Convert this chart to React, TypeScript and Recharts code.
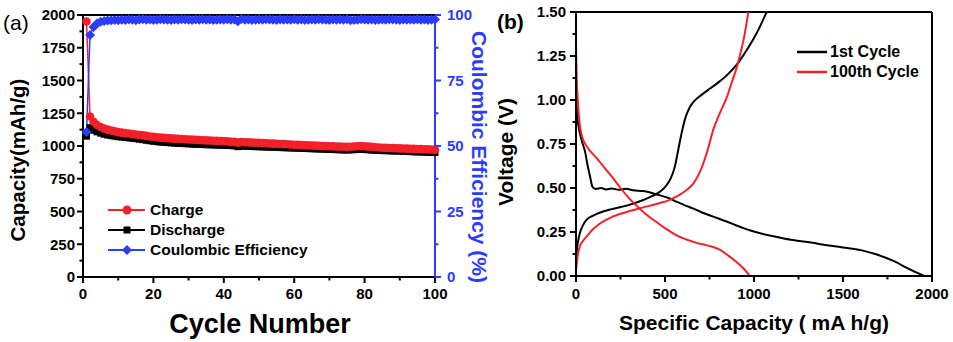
import React from 'react';
import { LineChart, Line, XAxis, YAxis, ReferenceLine, Legend } from 'recharts';

const RED = '#f3202a';
const BLUE = '#2b3bff';
const BLACK = '#000';
const FONT = '"Liberation Sans", Arial, sans-serif';

// ---- panel (a): cycling ----
const cycles = Array.from({ length: 100 }, (_, i) => i + 1);

const charge = [
  1950, 1225, 1185, 1160, 1145, 1133, 1125, 1118, 1112, 1106,
  1102, 1098, 1095, 1091, 1088, 1084, 1081, 1077, 1073, 1070,
  1067, 1064, 1062, 1060, 1058, 1056, 1055, 1053, 1052, 1050,
  1049, 1047, 1046, 1044, 1043, 1042, 1040, 1039, 1038, 1036,
  1035, 1033, 1032, 1026, 1030, 1029, 1028, 1026, 1025, 1024,
  1022, 1021, 1019, 1018, 1017, 1015, 1014, 1013, 1011, 1010,
  1009, 1008, 1006, 1005, 1004, 1003, 1002, 1000, 999, 998,
  997, 996, 995, 994, 993, 994, 996, 998, 1000, 998,
  995, 993, 991, 989, 987, 986, 985, 984, 983, 982,
  981, 980, 979, 978, 977, 976, 975, 974, 973, 972,
];

const discharge = [
  1075, 1140, 1120, 1108, 1098, 1090, 1084, 1079, 1075, 1071,
  1068, 1065, 1062, 1059, 1056, 1052, 1048, 1044, 1040, 1036,
  1033, 1030, 1028, 1026, 1024, 1022, 1020, 1019, 1018, 1016,
  1015, 1013, 1012, 1011, 1010, 1009, 1008, 1007, 1006, 1005,
  1004, 1003, 1001, 995, 999, 998, 997, 996, 995, 994,
  993, 992, 991, 990, 989, 988, 987, 986, 985, 984,
  983, 982, 981, 980, 979, 978, 977, 976, 975, 974,
  973, 972, 971, 970, 969, 970, 972, 974, 975, 973,
  971, 969, 967, 966, 965, 964, 963, 962, 961, 960,
  959, 958, 957, 956, 955, 954, 953, 952, 951, 950,
];

const coulombicEfficiency = [
  55.3, 92.4, 95.4, 96.8, 97.4, 97.7, 97.9, 98.0, 98.1, 98.0,
  98.2, 98.1, 98.3, 98.2, 98.0, 98.3, 98.4, 98.2, 98.3, 98.1,
  98.2, 98.4, 98.3, 98.2, 98.1, 98.3, 98.2, 98.4, 98.3, 98.2,
  98.1, 98.3, 98.2, 98.4, 98.2, 98.3, 98.1, 98.2, 98.3, 98.2,
  98.4, 98.2, 98.3, 97.6, 98.5, 98.2, 98.3, 98.1, 98.2, 98.3,
  98.2, 98.4, 98.3, 98.2, 98.1, 98.3, 98.2, 98.3, 98.2, 98.4,
  98.2, 98.3, 98.1, 98.2, 98.3, 98.2, 98.4, 98.3, 98.2, 98.1,
  98.3, 98.2, 98.3, 98.2, 98.4, 98.0, 98.1, 98.2, 98.4, 98.3,
  98.2, 98.3, 98.1, 98.2, 98.3, 98.2, 98.4, 98.3, 98.2, 98.1,
  98.3, 98.2, 98.3, 98.2, 98.4, 98.2, 98.3, 98.1, 98.2, 98.3,
];

const capacityTicks = [0, 125, 250, 375, 500, 625, 750, 875, 1000, 1125, 1250, 1375, 1500, 1625, 1750, 1875, 2000];
const ceTicks = [0, 12.5, 25, 37.5, 50, 62.5, 75, 87.5, 100];
const cycleTicks = [0, 10, 20, 30, 40, 50, 60, 70, 80, 90, 100];

const cycleRows = cycles.map((c, i) => ({
  cycle: c,
  charge: charge[i],
  discharge: discharge[i],
  ce: coulombicEfficiency[i],
}));

// ---- panel (b): voltage profiles, [capacity, voltage] ----
const firstDischarge = [
  [0, 1.02], [8, 0.9], [20, 0.82], [35, 0.76], [50, 0.71], [65, 0.63], [80, 0.56], [92, 0.508],
  [110, 0.495], [140, 0.5], [170, 0.492], [200, 0.497], [240, 0.49], [280, 0.496], [320, 0.487],
  [378, 0.483], [425, 0.472], [472, 0.458], [520, 0.443], [570, 0.42], [615, 0.4], [660, 0.383],
  [705, 0.362], [750, 0.345], [800, 0.327], [850, 0.308], [895, 0.29], [940, 0.272], [985, 0.257],
  [1035, 0.243], [1130, 0.222], [1220, 0.204], [1320, 0.19], [1410, 0.175], [1500, 0.162],
  [1600, 0.147], [1690, 0.122], [1780, 0.087], [1870, 0.04], [1955, 0],
];
const firstCharge = [
  [0, 0.06], [5, 0.15], [12, 0.2], [22, 0.245], [40, 0.29], [60, 0.32], [100, 0.345], [140, 0.362],
  [200, 0.38], [285, 0.4], [378, 0.432], [430, 0.455], [470, 0.478], [500, 0.505], [530, 0.55],
  [555, 0.62], [575, 0.72], [595, 0.82], [615, 0.9], [640, 0.96], [665, 0.995], [700, 1.025],
  [753, 1.065], [800, 1.1], [847, 1.14], [890, 1.185], [921, 1.225], [960, 1.285], [996, 1.345],
  [1030, 1.41], [1071, 1.5],
];
const hundredthDischarge = [
  [0, 1.3], [4, 1.12], [10, 1.0], [20, 0.87], [35, 0.79], [55, 0.745], [80, 0.71], [116, 0.67],
  [160, 0.615], [205, 0.56], [250, 0.5], [300, 0.44], [350, 0.39], [400, 0.345], [450, 0.308],
  [500, 0.272], [550, 0.24], [600, 0.215], [660, 0.194], [710, 0.18], [760, 0.168], [810, 0.148],
  [850, 0.12], [895, 0.085], [940, 0.044], [977, 0],
];
const hundredthCharge = [
  [0, 0.03], [4, 0.07], [10, 0.12], [22, 0.17], [40, 0.2], [60, 0.225], [100, 0.27], [135, 0.298],
  [200, 0.335], [285, 0.364], [380, 0.39], [472, 0.415], [520, 0.43], [566, 0.452], [610, 0.48],
  [659, 0.525], [700, 0.6], [735, 0.7], [771, 0.83], [810, 0.93], [847, 1.015], [875, 1.1],
  [903, 1.185], [925, 1.27], [945, 1.36], [968, 1.5],
];

const voltageTicks = [0, 0.125, 0.25, 0.375, 0.5, 0.625, 0.75, 0.875, 1, 1.125, 1.25, 1.375, 1.5];
const capTicks = [0, 250, 500, 750, 1000, 1250, 1500, 1750, 2000];

const toPoints = (rows: number[][]) => rows.map(([cap, v]) => ({ cap, v }));

// tick with major/minor marks drawn by hand
type TickOpts = {
  side: 'left' | 'right' | 'bottom';
  gap: number;
  every: number;
  color: string;
  fmt: (v: number) => string;
};
const renderTick = (p: any, o: TickOpts) => {
  const v = p.payload.value as number;
  const major = Math.abs(v / o.every - Math.round(v / o.every)) < 1e-6;
  const len = major ? 6 : 3.5;
  const txt = { fontFamily: FONT, fontWeight: 700, fontSize: 15, fill: o.color };
  if (o.side === 'left') {
    const ax = p.x + o.gap;
    return (
      <g>
        <line x1={ax} x2={ax - len} y1={p.y} y2={p.y} stroke={o.color} strokeWidth={2} />
        {major && <text x={p.x} y={p.y} dy="0.35em" textAnchor="end" {...txt}>{o.fmt(v)}</text>}
      </g>
    );
  }
  if (o.side === 'right') {
    const ax = p.x - o.gap;
    return (
      <g>
        <line x1={ax} x2={ax + len} y1={p.y} y2={p.y} stroke={o.color} strokeWidth={2} />
        {major && <text x={p.x} y={p.y} dy="0.35em" textAnchor="start" {...txt}>{o.fmt(v)}</text>}
      </g>
    );
  }
  const ay = p.y - o.gap;
  return (
    <g>
      <line x1={p.x} x2={p.x} y1={ay} y2={ay + len} stroke={o.color} strokeWidth={2} />
      {major && <text x={p.x} y={p.y} dy="0.71em" textAnchor="middle" {...txt}>{o.fmt(v)}</text>}
    </g>
  );
};

const circleDot = (p: any) => <circle key={`c${p.index}`} cx={p.cx} cy={p.cy} r={4.3} fill={RED} />;
const squareDot = (p: any) => (
  <rect key={`s${p.index}`} x={p.cx - 3.5} y={p.cy - 3.5} width={7} height={7} fill={BLACK} />
);
const diamondDot = (p: any) => (
  <path
    key={`d${p.index}`}
    d={`M${p.cx},${p.cy - 5}L${p.cx + 5},${p.cy}L${p.cx},${p.cy + 5}L${p.cx - 5},${p.cy}Z`}
    fill={BLUE}
  />
);

const legendA = [
  { label: 'Charge', color: RED, shape: 'circle' },
  { label: 'Discharge', color: BLACK, shape: 'square' },
  { label: 'Coulombic Efficiency', color: BLUE, shape: 'diamond' },
];
const legendB = [
  { label: '1st Cycle', color: BLACK },
  { label: '100th Cycle', color: RED },
];

const LegendA = () => (
  <div style={{ fontFamily: FONT, fontWeight: 700, fontSize: 15.5 }}>
    {legendA.map((e) => (
      <div key={e.label} style={{ display: 'flex', alignItems: 'center', height: 20 }}>
        <svg width={42} height={20}>
          <line x1={0} x2={37} y1={10} y2={10} stroke={e.color} strokeWidth={2} />
          {e.shape === 'circle' && <circle cx={19} cy={10} r={4.5} fill={e.color} />}
          {e.shape === 'square' && <rect x={15.5} y={6.5} width={7} height={7} fill={e.color} />}
          {e.shape === 'diamond' && <path d="M19,5L24,10L19,15L14,10Z" fill={e.color} />}
        </svg>
        <span style={{ color: BLACK }}>{e.label}</span>
      </div>
    ))}
  </div>
);

const LegendB = () => (
  <div style={{ fontFamily: FONT, fontWeight: 700, fontSize: 16 }}>
    {legendB.map((e) => (
      <div key={e.label} style={{ display: 'flex', alignItems: 'center', height: 20 }}>
        <svg width={33} height={20}>
          <line x1={0} x2={30} y1={10} y2={10} stroke={e.color} strokeWidth={2.5} />
        </svg>
        <span style={{ color: BLACK }}>{e.label}</span>
      </div>
    ))}
  </div>
);

const title = { fontFamily: FONT, fontWeight: 700 } as const;

export default function App() {
  return (
    <div style={{ position: 'absolute', left: 0, top: 0, width: 953, height: 342, background: '#fff' }}>
      <div style={{ position: 'absolute', left: 0, top: 0 }}>
        <LineChart width={490} height={342} data={cycleRows} margin={{ top: 15, right: 0, bottom: 0, left: 0 }}>
          <XAxis
            dataKey="cycle"
            type="number"
            domain={[0, 100]}
            ticks={cycleTicks}
            interval={0}
            height={65}
            tickSize={6}
            tickMargin={5}
            tickLine={false}
            axisLine={{ stroke: BLACK, strokeWidth: 2 }}
            tick={(p: any) => renderTick(p, { side: 'bottom', gap: 11, every: 20, color: BLACK, fmt: (v) => `${v}` })}
          />
          <YAxis
            yAxisId="cap"
            domain={[0, 2000]}
            ticks={capacityTicks}
            interval={0}
            width={83}
            tickSize={6}
            tickMargin={2}
            tickLine={false}
            axisLine={{ stroke: BLACK, strokeWidth: 2 }}
            tick={(p: any) => renderTick(p, { side: 'left', gap: 8, every: 250, color: BLACK, fmt: (v) => `${v}` })}
          />
          <YAxis
            yAxisId="ce"
            orientation="right"
            domain={[0, 100]}
            ticks={ceTicks}
            interval={0}
            width={55}
            tickSize={6}
            tickMargin={6}
            tickLine={false}
            axisLine={{ stroke: BLUE, strokeWidth: 2 }}
            tick={(p: any) => renderTick(p, { side: 'right', gap: 12, every: 25, color: BLUE, fmt: (v) => `${v}` })}
          />
          <ReferenceLine yAxisId="cap" y={2000} stroke={BLACK} strokeWidth={2} />
          <Line yAxisId="cap" dataKey="discharge" stroke={BLACK} strokeWidth={1.5} dot={squareDot} isAnimationActive={false} />
          <Line yAxisId="cap" dataKey="charge" stroke={RED} strokeWidth={1.5} dot={circleDot} isAnimationActive={false} />
          <Line yAxisId="ce" dataKey="ce" stroke={BLUE} strokeWidth={1.5} dot={diamondDot} isAnimationActive={false} />
          <Legend
            layout="vertical"
            align="center"
            verticalAlign="middle"
            content={<LegendA />}
            wrapperStyle={{ left: 108, top: 200, width: 260 }}
          />
          <text x={3} y={30} fontSize={21} {...title} fontWeight={400} fill={BLACK}>(a)</text>
          <text x={25} y={160} fontSize={20.5} textAnchor="middle" transform="rotate(-90 25 160)" {...title} fill={BLACK}>
            Capacity(mAh/g)
          </text>
          <text x={472} y={157} fontSize={21} textAnchor="middle" transform="rotate(90 472 157)" {...title} fill={BLUE}>
            Coulombic Efficiency (%)
          </text>
          <text x={260} y={333} fontSize={27} textAnchor="middle" {...title} fill={BLACK}>Cycle Number</text>
        </LineChart>
      </div>
      <div style={{ position: 'absolute', left: 480, top: 0 }}>
        <LineChart width={473} height={342} margin={{ top: 12, right: 21, bottom: 0, left: 0 }}>
          <XAxis
            dataKey="cap"
            type="number"
            domain={[0, 2000]}
            ticks={capTicks}
            interval={0}
            height={66}
            tickSize={6}
            tickMargin={6}
            tickLine={false}
            allowDataOverflow
            axisLine={{ stroke: BLACK, strokeWidth: 2 }}
            tick={(p: any) => renderTick(p, { side: 'bottom', gap: 12, every: 500, color: BLACK, fmt: (v) => `${v}` })}
          />
          <YAxis
            domain={[0, 1.5]}
            ticks={voltageTicks}
            interval={0}
            width={96}
            tickSize={6}
            tickMargin={4}
            tickLine={false}
            allowDataOverflow
            axisLine={{ stroke: BLACK, strokeWidth: 2 }}
            tick={(p: any) => renderTick(p, { side: 'left', gap: 10, every: 0.25, color: BLACK, fmt: (v) => v.toFixed(2) })}
          />
          <ReferenceLine y={1.5} stroke={BLACK} strokeWidth={2} />
          <ReferenceLine x={2000} stroke={BLACK} strokeWidth={2} />
          <Line data={toPoints(firstDischarge)} dataKey="v" type="monotone" stroke={BLACK} strokeWidth={2} dot={false} isAnimationActive={false} />
          <Line data={toPoints(firstCharge)} dataKey="v" type="monotone" stroke={BLACK} strokeWidth={2} dot={false} isAnimationActive={false} />
          <Line data={toPoints(hundredthDischarge)} dataKey="v" type="monotone" stroke={RED} strokeWidth={2} dot={false} isAnimationActive={false} />
          <Line data={toPoints(hundredthCharge)} dataKey="v" type="monotone" stroke={RED} strokeWidth={2} dot={false} isAnimationActive={false} />
          <Legend
            layout="vertical"
            align="center"
            verticalAlign="middle"
            content={<LegendB />}
            wrapperStyle={{ left: 317, top: 42, width: 140 }}
          />
          <text x={17} y={29} fontSize={21} {...title} fill={BLACK}>(b)</text>
          <text x={33} y={152} fontSize={21} textAnchor="middle" transform="rotate(-90 33 152)" {...title} fill={BLACK}>
            Voltage (V)
          </text>
          <text x={274} y={330} fontSize={21} textAnchor="middle" {...title} fill={BLACK}>
            Specific Capacity ( mA h/g)
          </text>
        </LineChart>
      </div>
    </div>
  );
}
